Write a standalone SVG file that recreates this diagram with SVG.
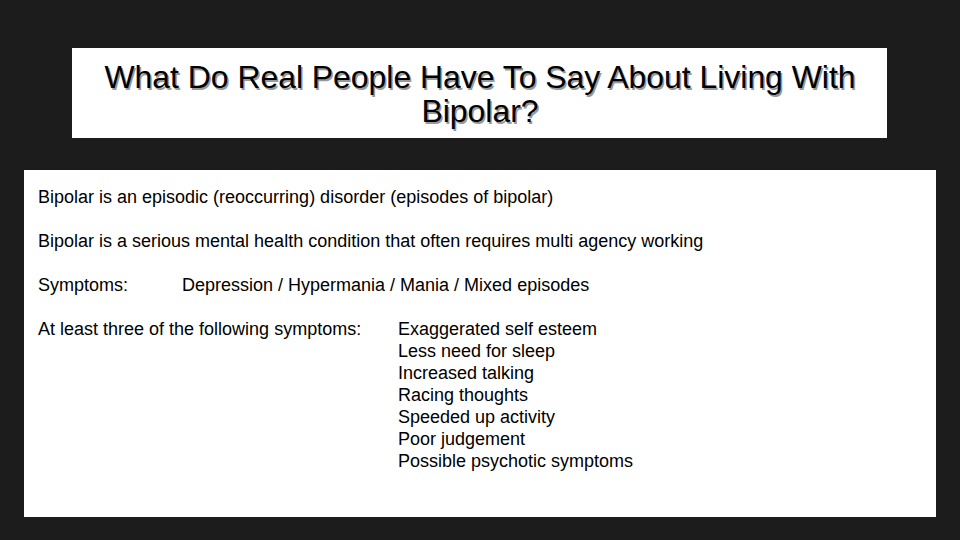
<svg xmlns="http://www.w3.org/2000/svg" width="960" height="540" viewBox="0 0 960 540">
<style>
.t{font-family:"Liberation Sans",Arial,sans-serif;font-size:31.9px;text-anchor:middle}
.b{font-family:"Liberation Sans",Arial,sans-serif;font-size:18px;fill:#000}
</style>
<rect width="960" height="540" fill="#1c1c1c"/>
<g id="title">
<rect x="72" y="48" width="815" height="90" fill="#fff"/>
<text class="t" fill="#999" x="481.5" y="89.5">What Do Real People Have To Say About Living With</text>
<text class="t" fill="#999" x="481.5" y="123.5">Bipolar?</text>
<text class="t" fill="#000" x="480" y="88">What Do Real People Have To Say About Living With</text>
<text class="t" fill="#000" x="480" y="122">Bipolar?</text>
</g>
<g id="body">
<rect x="24" y="170" width="912" height="347" fill="#fff"/>
<text class="b" x="38" y="203">Bipolar is an episodic (reoccurring) disorder (episodes of bipolar)</text>
<text class="b" x="38" y="247">Bipolar is a serious mental health condition that often requires multi agency working</text>
<text class="b" x="38" y="291">Symptoms:</text>
<text class="b" x="182" y="291">Depression / Hypermania / Mania / Mixed episodes</text>
<text class="b" x="38" y="335">At least three of the following symptoms:</text>
<text class="b" x="398" y="335">Exaggerated self esteem</text>
<text class="b" x="398" y="357">Less need for sleep</text>
<text class="b" x="398" y="379">Increased talking</text>
<text class="b" x="398" y="401">Racing thoughts</text>
<text class="b" x="398" y="423">Speeded up activity</text>
<text class="b" x="398" y="445">Poor judgement</text>
<text class="b" x="398" y="467">Possible psychotic symptoms</text>
</g>
</svg>
